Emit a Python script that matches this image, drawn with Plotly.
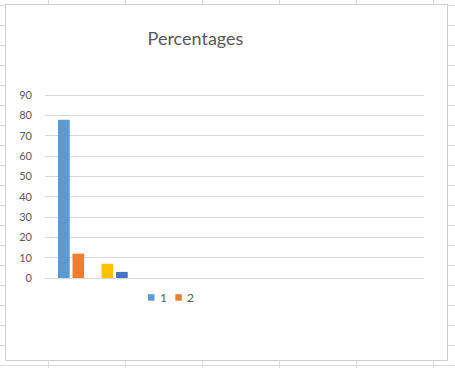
import plotly.graph_objects as go

# ---- data ----
categories = ["Row 1"]
series_names = ["1", "2", "3", "4", "5"]
series_values = [[78], [12], [0], [7], [3]]
series_colors = ["#5B9BD5", "#ED7D31", "#A5A5A5", "#FFC000", "#4472C4"]
legend_series = ["1", "2"]
y_ticks = [0, 10, 20, 30, 40, 50, 60, 70, 80, 90]
title_text = "Percentages"

# ---- geometry helpers (pixel -> paper) ----
W, H = 455, 368
L, R, T, B = 45, 31, 94, 90
PW, PH = W - L - R, H - T - B
PX_PER_UNIT = (278 - 95.3) / 90.0
Y_TOP = PH / PX_PER_UNIT


def fx(px):
    return (px - L) / PW


def fy(py):
    return (H - B - py) / PH


FONT = "Lato, 'Liberation Sans', sans-serif"
TXT = "#595959"

fig = go.Figure()
for name, vals, col in zip(series_names, series_values, series_colors):
    fig.add_trace(go.Bar(x=categories, y=vals, name=name,
                         marker=dict(color=col, line=dict(width=0)),
                         showlegend=False))

shapes = []
# spreadsheet cell grid behind the chart
for k in range(19):
    y = 5.5 + 20 * k
    shapes.append(dict(type="line", xref="paper", yref="paper", layer="below",
                       x0=fx(0), x1=fx(W), y0=fy(y), y1=fy(y),
                       line=dict(color="#DADADA", width=1)))
for k in range(6):
    x = 48.5 + 77 * k
    shapes.append(dict(type="line", xref="paper", yref="paper", layer="below",
                       x0=fx(x), x1=fx(x), y0=fy(0), y1=fy(H),
                       line=dict(color="#DADADA", width=1)))
# chart area
shapes.append(dict(type="rect", xref="paper", yref="paper", layer="below",
                   x0=fx(5.5), x1=fx(447.5), y0=fy(360.5), y1=fy(4.5),
                   fillcolor="white", line=dict(color="#CFCFCF", width=1)))

# manual legend (small squares like Excel)
annotations = []
leg_x = [148, 175.3]
for name, lx in zip(legend_series, leg_x):
    col = series_colors[series_names.index(name)]
    shapes.append(dict(type="rect", xref="paper", yref="paper", layer="above",
                       x0=fx(lx), x1=fx(lx + 6.5), y0=fy(300.7), y1=fy(294.2),
                       fillcolor=col, line=dict(width=0)))
    annotations.append(dict(text=name, xref="paper", yref="paper",
                            x=fx(lx + 9.5), y=fy(297.5), xanchor="left",
                            yanchor="middle", showarrow=False,
                            font=dict(family=FONT, size=12, color=TXT)))

fig.update_layout(
    width=W, height=H,
    margin=dict(l=L, r=R, t=T, b=B, pad=0),
    paper_bgcolor="white", plot_bgcolor="rgba(0,0,0,0)",
    barmode="group", bargap=0.2, bargroupgap=0.193,
    showlegend=False,
    title=dict(text=title_text, x=195.5 / W, xref="container", xanchor="center",
               y=1 - 39 / H, yref="container", yanchor="middle",
               font=dict(family=FONT, size=18, color=TXT)),
    xaxis=dict(type="category", range=[-0.528, 3.654], showticklabels=False,
               showgrid=False, zeroline=False, showline=True,
               linecolor="#D9D9D9", linewidth=1, ticks=""),
    yaxis=dict(range=[0, Y_TOP], tickvals=y_ticks, showgrid=True,
               gridcolor="#D9D9D9", gridwidth=1, zeroline=False,
               showline=False, ticks="", ticklabelstandoff=12,
               tickfont=dict(family=FONT, size=11, color=TXT)),
    shapes=shapes, annotations=annotations,
)

fig.write_html("out.html")
